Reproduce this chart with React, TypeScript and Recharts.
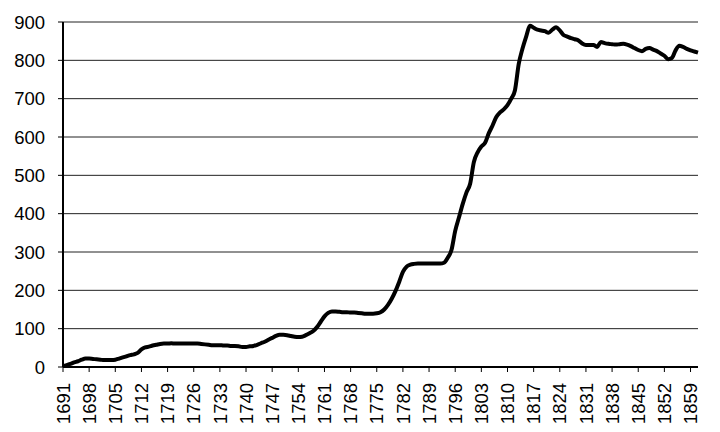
import { CartesianGrid, Line, LineChart, XAxis, YAxis } from "recharts";

const START_YEAR = 1691;

// one value per year, 1691 .. 1861
const values = [
  2, 5, 8, 12, 15, 19, 22, 22, 21, 20,
  19, 18, 18, 18, 19, 22, 25, 28, 31, 33,
  37, 46, 51, 53, 56, 58, 60, 61, 61, 62,
  61, 61, 61, 61, 61, 61, 61, 60, 59, 58,
  57, 57, 57, 56, 56, 55, 55, 54, 52, 52,
  54, 55, 58, 62, 66, 71, 76, 81, 84, 84,
  83, 81, 79, 78, 79, 83, 88, 94, 104, 118,
  132, 141, 145, 145, 144, 143, 143, 142, 142, 141,
  140, 139, 139, 139, 140, 143, 150, 162, 178, 198,
  222, 248, 262, 267, 269, 270, 270, 270, 270, 270,
  270, 270, 272, 285, 305, 355, 390, 425, 455, 478,
  535, 560, 575, 585, 610, 630, 652, 664, 672, 683,
  700, 722, 790, 830, 862, 890, 885, 880, 878, 876,
  872, 880, 886, 878, 866, 862, 858, 855, 852, 844,
  840, 840, 840, 835, 848, 845, 843, 842, 841, 842,
  843, 841, 837, 832, 827, 824, 830, 832, 828, 824,
  818, 812, 803, 806, 826, 838, 835, 830, 826, 823,
  820,
];

const xTicks = [
  1691, 1698, 1705, 1712, 1719, 1726, 1733, 1740, 1747, 1754, 1761, 1768,
  1775, 1782, 1789, 1796, 1803, 1810, 1817, 1824, 1831, 1838, 1845, 1852,
  1859,
];
const yTicks = [0, 100, 200, 300, 400, 500, 600, 700, 800, 900];

const data = values.map((v, i) => ({ year: START_YEAR + i, value: v }));

const FONT = "'Liberation Sans', Arial, sans-serif";

function YearTick({ x, y, payload }: any) {
  return (
    <text
      transform={`translate(${x},${y + 9}) rotate(-90)`}
      textAnchor="end"
      dy="0.36em"
      fontSize={18.5}
      fontFamily={FONT}
      fill="#000"
    >
      {payload.value}
    </text>
  );
}

export default function App() {
  return (
    <div style={{ margin: -8, width: 720, height: 432, background: "#fff" }}>
      <LineChart
        width={720}
        height={432}
        data={data}
        margin={{ top: 22, right: 22, bottom: 0, left: 0 }}
      >
        <CartesianGrid vertical={false} stroke="#222" strokeWidth={1} />
        <XAxis
          dataKey="year"
          type="number"
          domain={[1691, 1861]}
          ticks={xTicks}
          interval={0}
          height={65}
          tickSize={5}
          tick={<YearTick />}
          axisLine={{ stroke: "#000", strokeWidth: 2 }}
          tickLine={{ stroke: "#000" }}
        />
        <YAxis
          domain={[0, 900]}
          ticks={yTicks}
          interval={0}
          width={63}
          tickSize={5}
          tickMargin={13}
          tick={{ fontSize: 18.5, fontFamily: FONT, fill: "#000" }}
          axisLine={{ stroke: "#000", strokeWidth: 2 }}
          tickLine={{ stroke: "#000" }}
        />
        <Line
          type="monotone"
          dataKey="value"
          stroke="#000"
          strokeWidth={4}
          dot={false}
          isAnimationActive={false}
        />
      </LineChart>
    </div>
  );
}
